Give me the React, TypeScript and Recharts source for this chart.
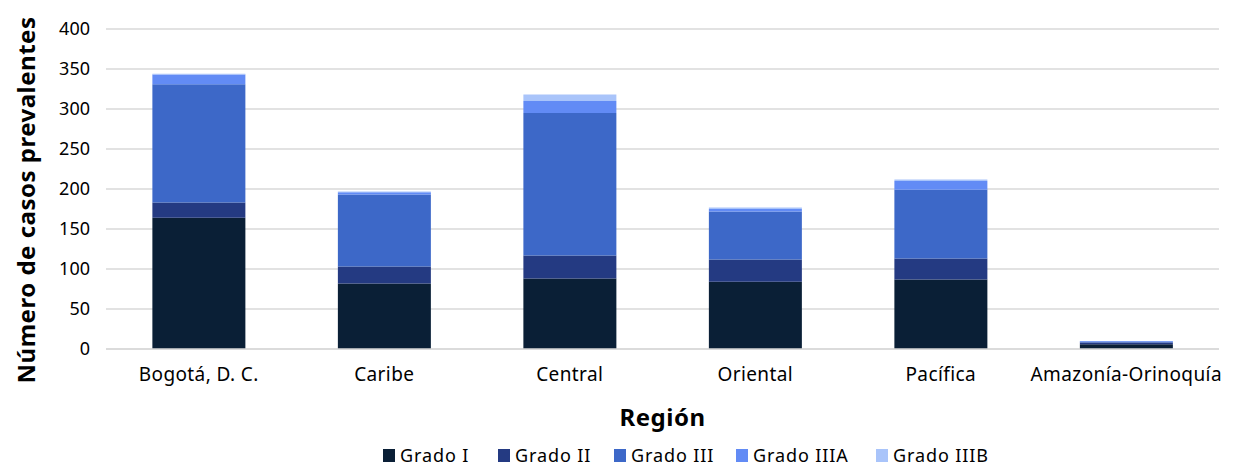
import React from 'react';
import { BarChart, Bar, XAxis, YAxis, CartesianGrid } from 'recharts';

const regiones = ['Bogotá, D. C.', 'Caribe', 'Central', 'Oriental', 'Pacífica', 'Amazonía-Orinoquía'];
const gradoI = [164, 82, 88, 84, 87, 6];
const gradoII = [19, 21, 29, 28, 26, 2];
const gradoIII = [148, 90, 178, 60, 86, 1];
const gradoIIIA = [12, 3, 15, 3, 11, 1];
const gradoIIIB = [1, 1, 8, 2, 2, 0];
const yTicks = [0, 50, 100, 150, 200, 250, 300, 350, 400];

const series = [
  { key: 'gI', name: 'Grado I', color: '#0a1f36' },
  { key: 'gII', name: 'Grado II', color: '#243a82' },
  { key: 'gIII', name: 'Grado III', color: '#3d68c8' },
  { key: 'gIIIA', name: 'Grado IIIA', color: '#628bf5' },
  { key: 'gIIIB', name: 'Grado IIIB', color: '#a9c4fa' },
];

const data = regiones.map((r, i) => ({
  region: r,
  gI: gradoI[i],
  gII: gradoII[i],
  gIII: gradoIII[i],
  gIIIA: gradoIIIA[i],
  gIIIB: gradoIIIB[i],
}));

const font = '"Noto Sans", sans-serif';

// legend item left edges, matched to the original layout
const legendLeft = [383, 498, 614, 736, 876];

function LegendBox() {
  return (
    <div style={{ position: 'absolute', left: 0, top: 445, width: 1245, height: 20, lineHeight: '20px', fontFamily: font, fontSize: 18, letterSpacing: 0.9, color: '#000' }}>
      {series.map((s, i) => (
        <div key={s.key} style={{ position: 'absolute', left: legendLeft[i], top: 0, height: 20, display: 'flex', alignItems: 'center', gap: 5, whiteSpace: 'nowrap' }}>
          <div style={{ width: 12, height: 13, background: s.color }} />
          {s.name}
        </div>
      ))}
    </div>
  );
}

function YLabel(props: any) {
  const { viewBox } = props;
  const cx = 25;
  const cy = viewBox.y + viewBox.height / 2 + 11;
  return (
    <text
      x={cx}
      y={cy}
      transform={`rotate(-90, ${cx}, ${cy})`}
      textAnchor="middle"
      dominantBaseline="central"
      fill="#000"
      style={{ fontSize: 24, fontWeight: 700, fontFamily: font, letterSpacing: 0.5 }}
    >
      Número de casos prevalentes
    </text>
  );
}

export default function App() {
  return (
    <div style={{ position: 'absolute', left: 0, top: 0, width: 1245, height: 468, overflow: 'hidden' }}>
      <BarChart
        width={1245}
        height={468}
        data={data}
        margin={{ top: 29, right: 26, left: 0, bottom: 0 }}
        barCategoryGap="25%"
      >
        <CartesianGrid vertical={false} stroke="#d9d9d9" strokeWidth={1.5} />
        <XAxis
          dataKey="region"
          axisLine={{ stroke: '#d9d9d9', strokeWidth: 1.5 }}
          tickLine={false}
          tickMargin={13}
          height={119}
          interval={0}
          tick={{ fill: '#000', fontSize: 19, fontFamily: font, letterSpacing: 0.4 }}
          label={{
            value: 'Región',
            position: 'insideBottom',
            offset: 42,
            style: { fill: '#000', fontSize: 24, fontWeight: 700, fontFamily: font, letterSpacing: 0.5 },
          }}
        />
        <YAxis
          domain={[0, 400]}
          ticks={yTicks}
          width={106}
          axisLine={false}
          tickLine={false}
          tickMargin={10}
          tick={{ fill: '#000', fontSize: 18, fontFamily: font }}
          label={<YLabel />}
        />
        {series.map((s) => (
          <Bar
            key={s.key}
            dataKey={s.key}
            name={s.name}
            stackId="a"
            fill={s.color}
            isAnimationActive={false}
          />
        ))}
      </BarChart>
      <LegendBox />
    </div>
  );
}
